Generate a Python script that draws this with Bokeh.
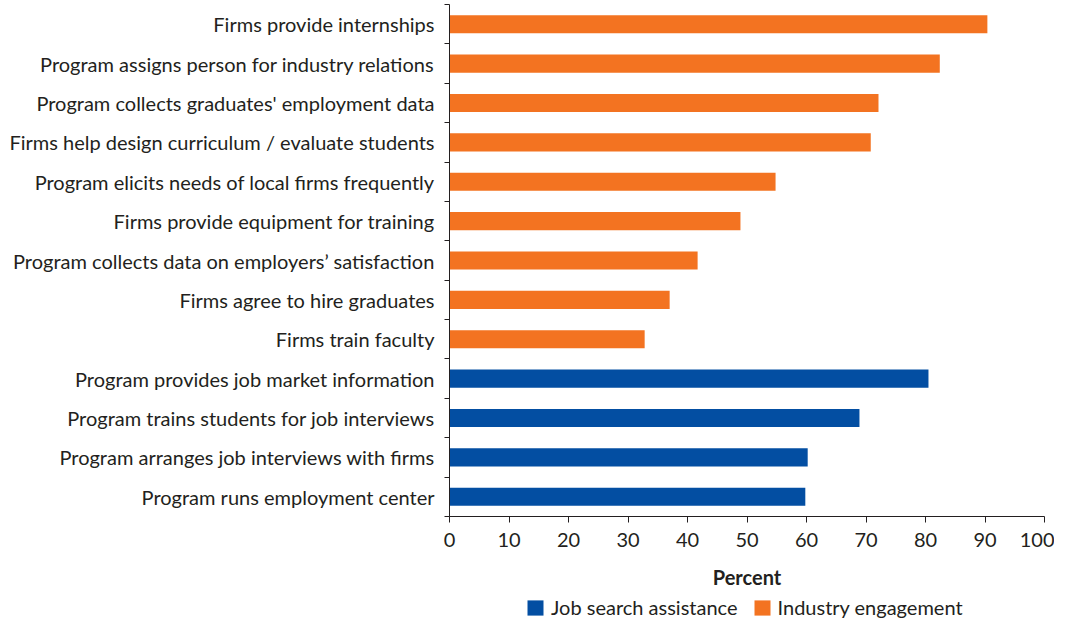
from bokeh.plotting import figure
from bokeh.layouts import column
from bokeh.models import FixedTicker, Legend, LegendItem, ColumnDataSource, Range1d
from bokeh.embed import file_html
from bokeh.resources import INLINE

# Data (top to bottom as shown)
categories = [
    "Firms provide internships",
    "Program assigns person for industry relations",
    "Program collects graduates' employment data",
    "Firms help design curriculum / evaluate students",
    "Program elicits needs of local firms frequently",
    "Firms provide equipment for training",
    "Program collects data on employers\u2019 satisfaction",
    "Firms agree to hire graduates",
    "Firms train faculty",
    "Program provides job market information",
    "Program trains students for job interviews",
    "Program arranges job interviews with firms",
    "Program runs employment center",
]
values = [90.4, 82.4, 72.1, 70.8, 54.8, 48.9, 41.7, 37.0, 32.8, 80.5, 68.9, 60.2, 59.8]
groups = ["Industry engagement"] * 9 + ["Job search assistance"] * 4
series = ["Job search assistance", "Industry engagement"]
x_ticks = [0, 10, 20, 30, 40, 50, 60, 70, 80, 90, 100]

colors = {"Job search assistance": "#034ea2", "Industry engagement": "#f37321"}
TEXT = "#231f20"
FONT = "Lato"
FS = "20px"

n = len(categories)
ypos = [n - 1 - i for i in range(n)]

p = figure(width=1054, height=596, output_backend="svg", toolbar_location=None,
           x_range=Range1d(0, 100), y_range=Range1d(-0.5, n - 0.5),
           min_border_left=449, min_border_right=10, min_border_top=4, min_border_bottom=80)
p.outline_line_color = None
p.xgrid.grid_line_color = None
p.ygrid.grid_line_color = None
p.background_fill_color = "white"

for g in series:
    idx = [i for i in range(n) if groups[i] == g]
    src = ColumnDataSource(dict(y=[ypos[i] for i in idx], v=[values[i] for i in idx]))
    p.hbar(y="y", right="v", left=0, height=0.46, source=src,
           fill_color=colors[g], line_color=None)

# y axis: labels at centers, tick marks between categories
p.yaxis.ticker = FixedTicker(ticks=ypos, minor_ticks=[k - 0.5 for k in range(n + 1)])
p.yaxis.major_label_overrides = {ypos[i]: categories[i] for i in range(n)}
p.yaxis.major_tick_out = 0
p.yaxis.major_tick_in = 0
p.yaxis.minor_tick_out = 5
p.yaxis.minor_tick_in = 0
p.yaxis.minor_tick_line_color = TEXT
p.yaxis.axis_line_color = TEXT
p.yaxis.major_label_standoff = 10
p.yaxis.major_label_text_font = FONT
p.yaxis.major_label_text_font_size = FS
p.yaxis.major_label_text_color = TEXT

# x axis
p.xaxis.ticker = FixedTicker(ticks=x_ticks, minor_ticks=[])
p.xaxis.major_tick_out = 6
p.xaxis.major_tick_in = 0
p.xaxis.major_tick_line_color = TEXT
p.xaxis.axis_line_color = TEXT
p.xaxis.major_label_standoff = 10
p.xaxis.major_label_text_font = FONT
p.xaxis.major_label_text_font_size = FS
p.xaxis.major_label_text_color = TEXT
p.xaxis.axis_label = "Percent"
p.xaxis.axis_label_text_font = FONT
p.xaxis.axis_label_text_font_size = FS
p.xaxis.axis_label_text_font_style = "bold"
p.xaxis.axis_label_text_color = TEXT
p.xaxis.axis_label_standoff = 15

# legend strip below the chart (its frame is aligned with the chart's frame)
lf = figure(width=1054, height=26, output_backend="svg", toolbar_location=None,
            x_axis_type=None, y_axis_type=None,
            x_range=Range1d(0, 1), y_range=Range1d(0, 1),
            min_border_left=0, min_border_right=0, min_border_top=0, min_border_bottom=0)
lf.outline_line_color = None
lf.xgrid.grid_line_color = None
lf.ygrid.grid_line_color = None
items = []
for g in series:
    # legend swatch source: a mark placed outside the strip's visible range
    r = lf.rect(x=[-5], y=[-5], width=1, height=1, fill_color=colors[g], line_color=None)
    items.append(LegendItem(label=g, renderers=[r]))
legend = Legend(items=items, orientation="horizontal", location=(76, 3))
legend.border_line_color = None
legend.background_fill_alpha = 0
legend.label_text_font = FONT
legend.label_text_font_size = FS
legend.label_text_color = TEXT
legend.label_height = 20
legend.glyph_width = 20
legend.glyph_height = 19
legend.spacing = 14
legend.padding = 0
legend.margin = 0
legend.label_standoff = 6
lf.add_layout(legend, "center")

layout = column(p, lf, spacing=0)
open("out.html", "w").write(file_html(layout, INLINE))
